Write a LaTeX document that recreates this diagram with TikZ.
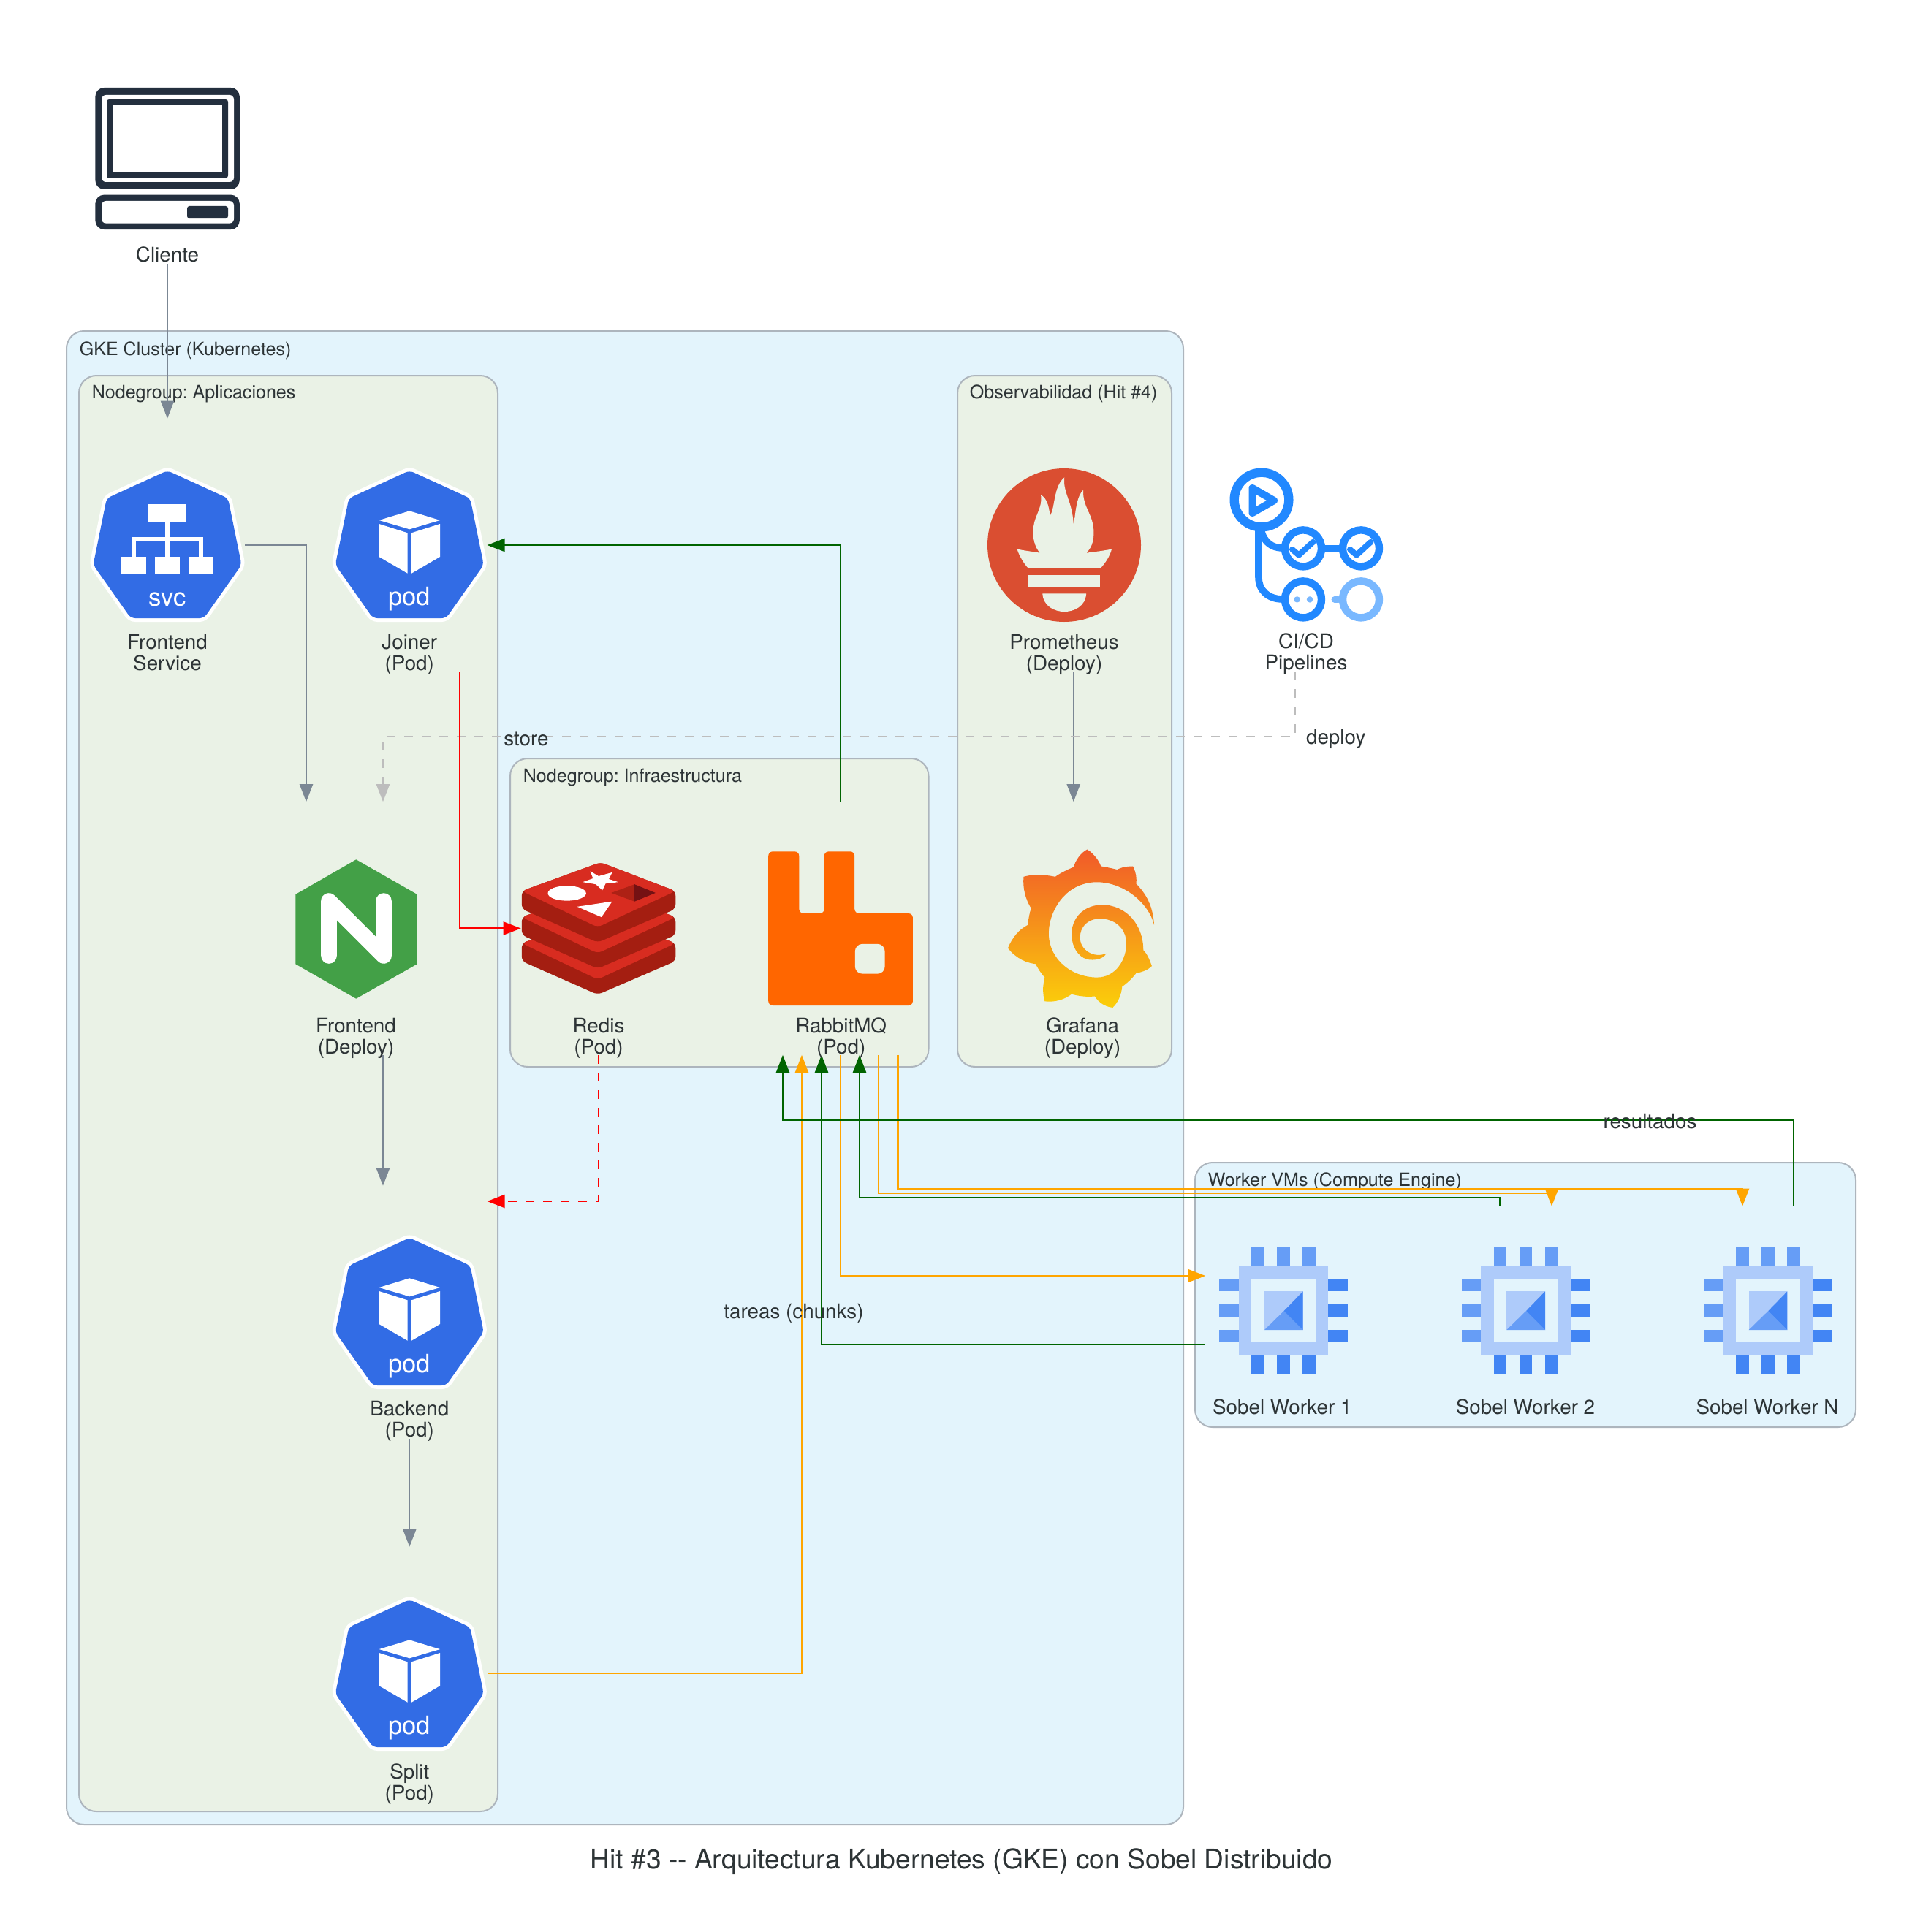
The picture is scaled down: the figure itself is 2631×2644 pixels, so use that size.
\documentclass[tikz,border=0pt]{standalone}
\usepackage{fontspec}
\setmainfont{TeX Gyre Heros}
\frenchspacing
\usetikzlibrary{arrows.meta,calc}
\definecolor{txt}{HTML}{2D3436}
\definecolor{clusterblue}{HTML}{E3F4FC}
\definecolor{clustergreen}{HTML}{EAF2E6}
\definecolor{clusterline}{HTML}{ADB5BD}
\definecolor{edgegray}{HTML}{7B8794}
\definecolor{deploygray}{HTML}{BDBDBD}
\definecolor{edgegreen}{HTML}{006400}
\definecolor{edgeorange}{HTML}{FFA500}
\definecolor{k8sblue}{HTML}{326CE5}
\definecolor{aws}{HTML}{232F3E}
\definecolor{ghblue}{HTML}{2188FF}
\definecolor{ghlight}{HTML}{79B8FF}
\definecolor{gcpa}{HTML}{AECBFA}
\definecolor{gcpb}{HTML}{669DF6}
\definecolor{gcpc}{HTML}{4285F4}
\definecolor{ngxgreen}{HTML}{43A047}
\definecolor{redisdark}{HTML}{A41E11}
\definecolor{redistop}{HTML}{D82C20}
\definecolor{redismid}{HTML}{AD2115}
\definecolor{redisdeep}{HTML}{741113}
\definecolor{rabbitorange}{HTML}{FF6600}
\definecolor{promred}{HTML}{DA4E31}
\definecolor{grafa}{HTML}{F15A29}
\definecolor{grafb}{HTML}{FBCF0A}
\tikzset{
  lbl/.style={align=center,inner sep=0pt,text=txt,font=\fontsize{6.95}{7.25}\selectfont},
  clbl/.style={anchor=west,inner sep=0pt,text=txt,font=\fontsize{6.27}{7}\selectfont},
  cluster/.style={draw=clusterline,line width=0.5pt,rounded corners=6pt},
  box/.style={inner sep=0pt,minimum width=52.75pt,minimum height=86.25pt},
  wbox/.style={inner sep=0pt,minimum width=52.75pt,minimum height=70.75pt},
  conn/.style={line width=0.55pt,-{Triangle[length=6pt,width=4.5pt]}},
  graye/.style={conn,draw=edgegray},
  greene/.style={conn,draw=edgegreen},
  orangee/.style={conn,draw=edgeorange},
  rede/.style={conn,draw=red},
  dashe/.style={dash pattern=on 3pt off 3pt},
  heptwhite/.style={fill=white,draw=white,line width=2.5pt,rounded corners=1.5pt},
  heptblue/.style={fill=k8sblue,rounded corners=1.5pt},
  podicon/.pic={
    \path[heptwhite] (0,3)--(83,41)--(101.5,132)--(50,205)--(-50,205)--(-101.5,132)--(-83,41)--cycle;
    \path[heptblue] (0,3)--(83,41)--(101.5,132)--(50,205)--(-50,205)--(-101.5,132)--(-83,41)--cycle;
    \fill[white] (0,58.3)--(41.7,71)--(0,83.3)--(-41.7,71)--cycle;
    \fill[white] (-41.7,76)--(-2.7,88.3)--(-2.7,143.7)--(-41.7,121)--cycle;
    \fill[white] (41.7,76)--(2.7,88.3)--(2.7,143.7)--(41.7,121)--cycle;
    \node[anchor=base,inner sep=0pt,text=white,font=\fontsize{8.65}{9}\selectfont] at (0,187.7) {pod};
  },
  svcicon/.pic={
    \path[heptwhite] (0,3)--(83,41)--(101.5,132)--(50,205)--(-50,205)--(-101.5,132)--(-83,41)--cycle;
    \path[heptblue] (0,3)--(83,41)--(101.5,132)--(50,205)--(-50,205)--(-101.5,132)--(-83,41)--cycle;
    \fill[white] (-27,49) rectangle (26.3,73.7);
    \fill[white] (-3,73.7) rectangle (3,121);
    \fill[white] (-49,93.6) rectangle (49,100.4);
    \fill[white] (-49,93.6) rectangle (-43,121);
    \fill[white] (43,93.6) rectangle (49,121);
    \fill[white] (-63,121) rectangle (-29.5,145);
    \fill[white] (-17,121) rectangle (17,145);
    \fill[white] (29.5,121) rectangle (63.4,145);
    \node[anchor=base,inner sep=0pt,text=white,font=\fontsize{8.65}{9}\selectfont] at (0,188) {svc};
  },
  chipicon/.pic={
    \fill[gcpa] (35,42.7) rectangle (157.3,164.7);
    \fill[clusterblue] (52.3,60) rectangle (140,147.3);
    \fill[gcpa] (70,77.3) rectangle (122.7,130);
    \fill[gcpb] (70,130)--(96.7,104)--(122.7,130)--cycle;
    \fill[gcpc] (122.7,77.3)--(122.7,130)--(96.7,104)--cycle;
    \foreach \a in {52.3,87.3,122.3}{
      \fill[gcpb] (\a,16) rectangle ++(17.7,26.7);
      \fill[gcpc] (\a,164.7) rectangle ++(17.7,26.6);
    }
    \foreach \b in {60,95,130}{
      \fill[gcpb] (8.3,\b) rectangle (35,\b+17.3);
      \fill[gcpc] (157.3,\b) rectangle (183.7,\b+17.3);
    }
  },
}
\begin{document}
\begin{tikzpicture}[x=0.25pt,y=-0.25pt]
\useasboundingbox[fill=white] (0,0) rectangle (2631,2644);

% clusters
\path[cluster,fill=clusterblue] (91,453) rectangle (1619,2497);
\path[cluster,fill=clustergreen] (108,514) rectangle (681,2479);
\path[cluster,fill=clustergreen] (698,1038) rectangle (1270.5,1460);
\path[cluster,fill=clustergreen] (1310,514) rectangle (1603,1460);
\path[cluster,fill=clusterblue] (1635,1591) rectangle (2539,1953);
\node[clbl] (cGKE) at (108,480) {GKE Cluster (Kubernetes)};
\node[clbl] (cApp) at (125,539) {Nodegroup: Aplicaciones};
\node[clbl] (cInf) at (715,1064.5) {Nodegroup: Infraestructura};
\node[clbl] (cObs) at (1326,539) {Observabilidad (Hit \#4)};
\node[clbl] (cWrk) at (1652,1617) {Worker VMs (Compute Engine)};

% layout boxes of the nodes (connector ends)
\node[box,minimum height=60pt] (cliente) at (229,240) {};
\node[box] (svc) at (229,746) {};
\node[box] (joiner) at (560.3,746) {};
\node[box] (nginx) at (487,1270.5) {};
\node[box] (redis) at (819,1270.5) {};
\node[box] (rabbit) at (1150,1270.5) {};
\node[box] (prom) at (1456,746) {};
\node[box] (grafana) at (1481,1270.5) {};
\node[box] (cicd) at (1787,746) {};
\node[box] (backend) at (560.3,1796) {};
\node[box] (split) at (560.3,2290) {};
\node[wbox] (w1) at (1755.5,1793) {};
\node[wbox] (w2) at (2087,1793) {};
\node[wbox] (wN) at (2418,1793) {};

% Cliente icon
\fill[aws,rounded corners=3pt] (130.4,120) rectangle (327.8,259);
\fill[white,rounded corners=1.5pt] (139,130) rectangle (320,249);
\fill[aws,rounded corners=0.8pt] (146,136) rectangle (312,243.6);
\fill[white] (154,144) rectangle (304,235);
\fill[aws,rounded corners=3pt] (130.4,266.6) rectangle (327.8,314);
\fill[white,rounded corners=1.5pt] (139,275) rectangle (320,305.6);
\fill[aws,rounded corners=0.8pt] (256,282) rectangle (312,299);

% Kubernetes icons
\pic at (229,641) {svcicon};
\pic at (560.3,641) {podicon};
\pic at (560.3,1691) {podicon};
\pic at (560.3,2186) {podicon};

% nginx
\fill[ngxgreen] (487.3,1176.3)--(570.7,1224)--(570.7,1319.3)--(487.3,1366.7)--(404.3,1319.3)--(404.3,1224)--cycle;
\draw[white,line width=5.4pt,line cap=round,line join=round] (450,1308)--(450,1233)--(525,1308)--(525,1233);

% Redis, RabbitMQ (drawn in the crop coordinates)
\begin{scope}[shift={(680,1000)},xscale=0.6378,yscale=0.5102]
  \foreach \d in {140,70,0}{
    \fill[redisdark,rounded corners=1.6pt] (53,430+\d)--(222,353+\d)--(383,430+\d)--(383,478+\d)--(216,568+\d)--(53,478+\d)--cycle;
    \fill[redistop,rounded corners=1.6pt] (53,430+\d)--(222,353+\d)--(383,430+\d)--(216,527+\d)--cycle;
  }
  \fill[white] (150,436) ellipse [x radius=41,y radius=20];
  \fill[white] (200,377)--(218,390)--(247,380)--(240,398)--(260,406)--(233,410)--(226,428)--(212,412)--(184,406)--(206,396)--cycle;
  \fill[white] (172,472)--(247,458)--(224,500)--cycle;
  \fill[redismid] (245,435)--(295,412)--(295,458)--cycle;
  \fill[redisdeep] (295,412)--(340,435)--(295,458)--cycle;
  \fill[rabbitorange,rounded corners=1.5pt] (582,324)--(648,324)--(648,490)--(702,490)--(702,324)--(767,324)--(767,490)--(892,490)--(892,737)--(582,737)--cycle;
  \fill[clustergreen,rounded corners=2.5pt] (768,572) rectangle (832,652);
\end{scope}

% Prometheus
\fill[promred] (1456,746) circle [radius=105];
\begin{scope}[shift={(1300,600)},xscale=0.4464,yscale=0.574]
  \fill[clustergreen] (205,264) .. controls (230,268) and (255,270) .. (275,273)
    .. controls (250,250) and (250,215) .. (262,190)
    .. controls (272,170) and (282,155) .. (278,135)
    .. controls (295,140) and (305,165) .. (305,185)
    .. controls (322,170) and (315,115) .. (350,93)
    .. controls (345,130) and (375,150) .. (378,205)
    .. controls (385,180) and (385,140) .. (408,123)
    .. controls (405,165) and (440,180) .. (440,225)
    .. controls (440,250) and (430,262) .. (418,273)
    .. controls (445,270) and (470,268) .. (495,264)
    .. controls (490,280) and (475,298) .. (460,310)
    -- (240,310) .. controls (225,298) and (212,280) .. (205,264) -- cycle;
  \fill[clustergreen] (240,326) rectangle (460,356);
  \fill[clustergreen] (283,370) -- (417,370) .. controls (415,400) and (380,413) .. (350,413)
    .. controls (320,413) and (285,400) .. (283,370) -- cycle;
  % Grafana
  \shade[top color=grafa,bottom color=grafb]
    (420,980) .. controls (440,990) and (455,1005) .. (462,1020)
    .. controls (480,1022) and (495,1025) .. (512,1028)
    .. controls (525,1022) and (545,1020) .. (560,1020)
    .. controls (570,1035) and (572,1050) .. (570,1062)
    .. controls (600,1085) and (622,1115) .. (625,1160)
    .. controls (610,1110) and (535,1058) .. (450,1058)
    .. controls (350,1058) and (302,1130) .. (302,1180)
    .. controls (302,1240) and (370,1285) .. (450,1285)
    .. controls (510,1285) and (540,1240) .. (540,1205)
    .. controls (540,1165) and (500,1145) .. (460,1145)
    .. controls (420,1145) and (398,1165) .. (398,1190)
    .. controls (398,1220) and (440,1240) .. (478,1228)
    .. controls (470,1242) and (440,1245) .. (420,1242)
    .. controls (390,1235) and (372,1210) .. (372,1180)
    .. controls (375,1135) and (420,1112) .. (465,1112)
    .. controls (540,1112) and (592,1160) .. (592,1220)
    .. controls (605,1230) and (612,1245) .. (618,1258)
    .. controls (605,1268) and (585,1273) .. (570,1275)
    .. controls (555,1290) and (540,1300) .. (527,1307)
    .. controls (525,1325) and (515,1345) .. (498,1357)
    .. controls (475,1355) and (455,1345) .. (443,1330)
    .. controls (420,1332) and (395,1330) .. (372,1325)
    .. controls (350,1338) and (320,1345) .. (290,1342)
    .. controls (283,1325) and (283,1305) .. (290,1285)
    .. controls (278,1275) and (270,1265) .. (262,1253)
    .. controls (230,1250) and (200,1238) .. (177,1215)
    .. controls (190,1190) and (212,1170) .. (238,1160)
    .. controls (240,1145) and (243,1132) .. (248,1120)
    .. controls (232,1100) and (222,1075) .. (225,1045)
    .. controls (255,1038) and (290,1040) .. (322,1045)
    .. controls (340,1035) and (360,1028) .. (378,1022)
    .. controls (385,1005) and (400,988) .. (420,980) -- cycle;
\end{scope}

% CI/CD
\begin{scope}[line cap=round,line join=round]
  \draw[ghblue,line width=2.4pt] (1722,725) -- (1722,790) .. controls (1722,808) and (1735,820) .. (1755,820);
  \draw[ghblue,line width=2.4pt] (1726,728) .. controls (1730,742) and (1740,750) .. (1755,750);
  \draw[ghblue,line width=2.4pt] (1813,750.4) -- (1832,750.4);
  \draw[ghblue,line width=3.1pt] (1726,684) circle [radius=37.3];
  \draw[ghblue,line width=2.5pt] (1713.5,668) -- (1713.5,702) -- (1743,685) -- cycle;
  \draw[ghblue,line width=2.6pt] (1783,750.4) circle [radius=25];
  \draw[ghblue,line width=2.6pt] (1862,750.4) circle [radius=25];
  \draw[ghblue,line width=2.6pt] (1783,820.4) circle [radius=25];
  \draw[ghlight,line width=2.6pt] (1862,820.4) circle [radius=25];
  \draw[ghlight,line width=2.2pt] (1826,820.4) -- (1831,820.4);
  \draw[ghblue,line width=2pt] (1768,752) -- (1777,759.6) -- (1796.4,741.8);
  \draw[ghblue,line width=2pt] (1847,752) -- (1856,759.6) -- (1875.4,741.8);
  \fill[ghlight] (1774.6,820.4) circle [radius=4.2];
  \fill[ghlight] (1792,820.4) circle [radius=4.2];
\end{scope}

% worker chips
\pic at (1660,1690) {chipicon};
\pic at (1991.3,1690) {chipicon};
\pic at (2322.6,1690) {chipicon};

% connectors
\draw[graye] (cliente.south) -- (svc.north);
\draw[graye] (svc.east) -| ($(nginx.north)+(-68,0)$);
\draw[graye] ($(nginx.south)+(37,0)$) -- ($(backend.north)+(-36.3,0)$);
\draw[graye] (backend.south) -- (split.north);
\draw[graye] ($(prom.south)+(12.75,0)$) -- ($(grafana.north)+(-12.25,0)$);
\draw[conn,draw=deploygray,dashe] ($(cicd.south)+(-15,0)$) |- ($(nginx.north)+(37,-89)$) -- ($(nginx.north)+(37,0)$);
\draw[rede] ($(joiner.south)+(68.5,0)$) |- (redis.west);
\draw[rede,dashe] (redis.south) |- ($(backend.east)+(0,-152)$);
\draw[greene] (rabbit.north) |- (joiner.east);
\draw[orangee] (split.east) -| ($(rabbit.south)+(-53,0)$);
\draw[orangee] (rabbit.south) |- ($(w1.west)+(0,-47)$);
\draw[orangee] ($(rabbit.south)+(52.3,0)$) |- ($(w2.north)+(36,-18)$) -- ($(w2.north)+(36,0)$);
\draw[orangee] ($(rabbit.south)+(78.5,0)$) |- ($(wN.north)+(-34,-24)$) -- ($(wN.north)+(-34,0)$);
\draw[greene] ($(w1.west)+(0,47)$) -| ($(rabbit.south)+(-26,0)$);
\draw[greene] ($(w2.north)+(-35,0)$) |- ($(rabbit.south)+(26,195)$) -- ($(rabbit.south)+(26,0)$);
\draw[greene] ($(wN.north)+(36,0)$) |- ($(rabbit.south)+(-79,89)$) -- ($(rabbit.south)+(-79,0)$);

% labels
\node[lbl] (lCliente) at (229,348) {Cliente};
\node[lbl] (lSvc) at (229,893) {Frontend\\Service};
\node[lbl] (lJoiner) at (560.3,896) {Joiner\\(Pod)};
\node[lbl] (lProm) at (1456,896) {Prometheus\\(Deploy)};
\node[lbl] (lCicd) at (1787,895) {CI/CD\\Pipelines};
\node[lbl] (lNginx) at (487,1421) {Frontend\\(Deploy)};
\node[lbl] (lRedis) at (819,1421) {Redis\\(Pod)};
\node[lbl] (lRabbit) at (1150.7,1421) {RabbitMQ\\(Pod)};
\node[lbl] (lGrafana) at (1481,1421) {Grafana\\(Deploy)};
\node[lbl] (lBackend) at (560.3,1945) {Backend\\(Pod)};
\node[lbl] (lSplit) at (560.3,2441.5) {Split\\(Pod)};
\node[lbl] (lW1) at (1754.3,1925.5) {Sobel Worker 1};
\node[lbl] (lW2) at (2087,1925.5) {Sobel Worker 2};
\node[lbl] (lWN) at (2418,1925.5) {Sobel Worker N};
\node[lbl] (eStore) at (720,1011.5) {store};
\node[lbl] (eDeploy) at (1827.7,1011.5) {deploy};
\node[lbl] (eRes) at (2257.5,1535) {resultados};
\node[lbl] (eTar) at (1086,1797) {tareas (chunks)};
\node[lbl,font=\fontsize{9.29}{10}\selectfont] (title) at (1315.5,2548) {Hit \#3 -{}- Arquitectura Kubernetes (GKE) con Sobel Distribuido};
\end{tikzpicture}
\end{document}
